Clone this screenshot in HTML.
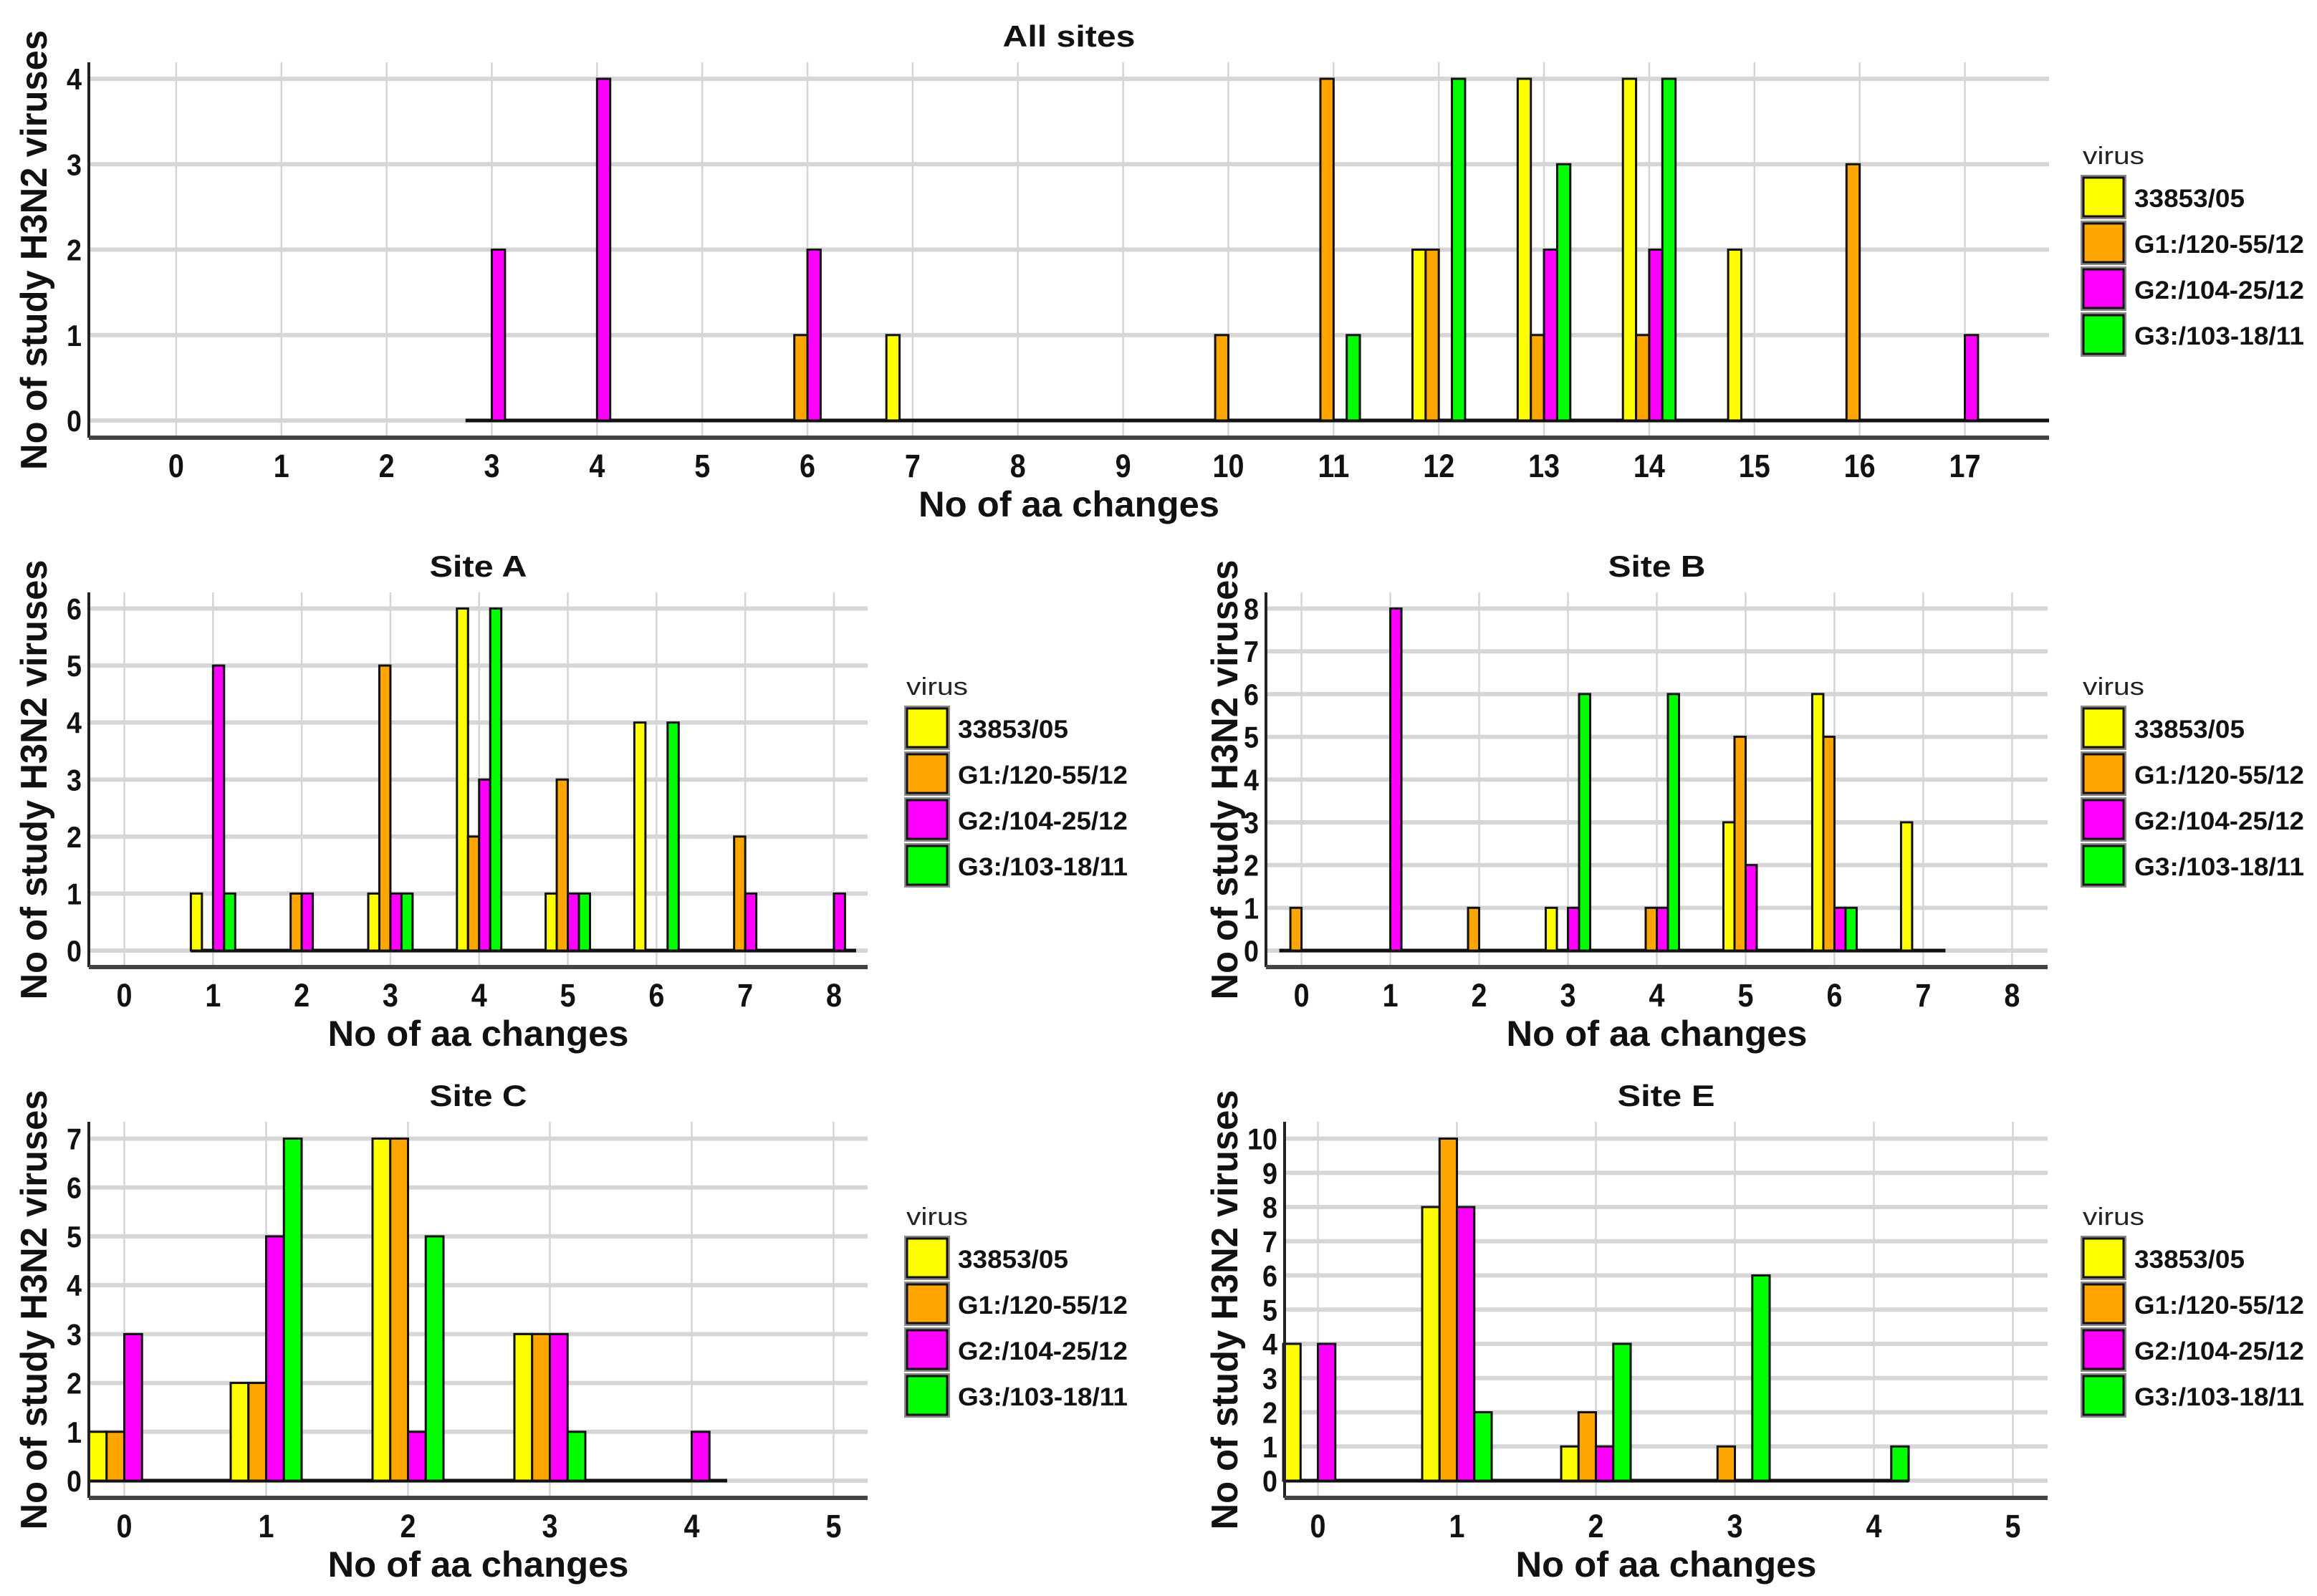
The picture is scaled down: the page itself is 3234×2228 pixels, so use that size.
<!DOCTYPE html>
<html><head><meta charset="utf-8">
<style>
html,body{margin:0;padding:0;background:#fff;}
svg{display:block;font-family:"Liberation Sans",Arial,sans-serif;}
</style></head>
<body>
<svg id="chart" width="3234" height="2228" viewBox="0 0 3234 2228" xmlns="http://www.w3.org/2000/svg">
<rect x="0" y="0" width="3234" height="2228" fill="#fff"/>
</svg>
<script>
// ---- data ----
const seriesNames = ["33853/05","G1:/120-55/12","G2:/104-25/12","G3:/103-18/11"];
const seriesColors = ["#ffff00","#ffa500","#ff00ff","#00ff00"];

const allCats = [3,4,6,7,10,11,12,13,14,15,16,17];
const allY = [0,0,0,1,0,0,2,4,4,2,0,0];
const allO = [0,0,1,0,1,4,2,1,1,0,3,0];
const allM = [2,4,2,0,0,0,0,2,2,0,0,1];
const allG = [0,0,0,0,0,1,4,3,4,0,0,0];
const allXTicks = [0,1,2,3,4,5,6,7,8,9,10,11,12,13,14,15,16,17];
const allYTicks = [0,1,2,3,4];

const aCats = [1,2,3,4,5,6,7,8];
const aY = [1,0,1,6,1,4,0,0];
const aO = [0,1,5,2,3,0,2,0];
const aM = [5,1,1,3,1,0,1,1];
const aG = [1,0,1,6,1,4,0,0];
const aXTicks = [0,1,2,3,4,5,6,7,8];
const aYTicks = [0,1,2,3,4,5,6];

const bCats = [0,1,2,3,4,5,6,7];
const bY = [0,0,0,1,0,3,6,3];
const bO = [1,0,1,0,1,5,5,0];
const bM = [0,8,0,1,1,2,1,0];
const bG = [0,0,0,6,6,0,1,0];
const bXTicks = [0,1,2,3,4,5,6,7,8];
const bYTicks = [0,1,2,3,4,5,6,7,8];

const cCats = [0,1,2,3,4];
const cY = [1,2,7,3,0];
const cO = [1,2,7,3,0];
const cM = [3,5,1,3,1];
const cG = [0,7,5,1,0];
const cXTicks = [0,1,2,3,4,5];
const cYTicks = [0,1,2,3,4,5,6,7];

const eCats = [0,1,2,3,4];
const eY = [4,8,1,0,0];
const eO = [0,10,2,1,0];
const eM = [4,8,1,0,0];
const eG = [0,2,4,6,1];
const eXTicks = [0,1,2,3,4,5];
const eYTicks = [0,1,2,3,4,5,6,7,8,9,10];

// ---- layout ----
const NS = "http://www.w3.org/2000/svg";
const svg = document.getElementById('chart');
function mk(tag, attrs, parent, txt){
  const e = document.createElementNS(NS, tag);
  for (const k in attrs) e.setAttribute(k, attrs[k]);
  if (txt !== undefined) e.textContent = txt;
  (parent||svg).appendChild(e);
  return e;
}

const panels = [
  {id:'all-sites', title:'All sites', tw:185, L:124, R:2860, T:87, B:611, xs:[-0.83,17.8], y0:587, yTopPx:110, yTopV:4, yt:65, lx:2907, ly:217,
   cats:allCats, vals:[allY,allO,allM,allG], xt:allXTicks, ytk:allYTicks, extendRight:true},
  {id:'site-a', title:'Site A', tw:136, L:124, R:1211, T:827, B:1350, xs:[-0.4,8.38], y0:1327, yTopPx:849.5, yTopV:6, yt:65, lx:1265, ly:958,
   cats:aCats, vals:[aY,aO,aM,aG], xt:aXTicks, ytk:aYTicks},
  {id:'site-b', title:'Site B', tw:136, L:1767, R:2858, T:827, B:1350, xs:[-0.4,8.4], y0:1327, yTopPx:849.5, yTopV:8, yt:1727, lx:2907, ly:958,
   cats:bCats, vals:[bY,bO,bM,bG], xt:bXTicks, ytk:bYTicks},
  {id:'site-c', title:'Site C', tw:136, L:124, R:1211, T:1566, B:2091, xs:[-0.25,5.24], y0:2067, yTopPx:1589.5, yTopV:7, yt:65, lx:1265, ly:1698,
   cats:cCats, vals:[cY,cO,cM,cG], xt:cXTicks, ytk:cYTicks},
  {id:'site-e', title:'Site E', tw:136, L:1793, R:2858, T:1566, B:2091, xs:[-0.24,5.25], y0:2067, yTopPx:1589.5, yTopV:10, yt:1727, lx:2907, ly:1698,
   cats:eCats, vals:[eY,eO,eM,eG], xt:eXTicks, ytk:eYTicks}
];

panels.forEach(p => {
  const g = mk('g', {});
  
  
  const X = v => p.L + (v - p.xs[0]) / (p.xs[1] - p.xs[0]) * (p.R - p.L);
  const Y = v => p.y0 - v * (p.y0 - p.yTopPx) / p.yTopV;
  const unit = X(1) - X(0);

  // gridlines
  p.xt.forEach(t => {
    const l = mk('line', {x1:X(t), x2:X(t), y1:p.T, y2:p.B, stroke:'#d4d4d4', 'stroke-width':2.5}, g);
    
    
  });
  p.ytk.forEach(t => {
    const l = mk('line', {x1:p.L, x2:p.R, y1:Y(t), y2:Y(t), stroke:'#d6d6d6', 'stroke-width':6}, g);
    
    
  });

  // baseline of zero-height bars
  const minC = Math.min(...p.cats), maxC = Math.max(...p.cats);
  const bx2 = p.extendRight ? p.R : X(maxC + 0.25);
  const base = mk('line', {x1:X(minC - 0.25), x2:bx2, y1:Y(0), y2:Y(0), stroke:'#111', 'stroke-width':5}, g);
  
  

  // bars
  const bw = 0.125;
  p.vals.forEach((arr, s) => {
    arr.forEach((v, i) => {
      if (v <= 0) return;
      const cx = p.cats[i] + (s - 1.5) * bw;
      const x = X(cx - bw/2), w = bw * unit;
      const r = mk('rect', {x:x, y:Y(v), width:w, height:Y(0)-Y(v), fill:seriesColors[s], stroke:'#111', 'stroke-width':3}, g);
      
      
    });
  });

  // axes
  const ya = mk('line', {x1:p.L, x2:p.L, y1:p.T, y2:p.B, stroke:'#222', 'stroke-width':4}, g);
  
  
  const xa = mk('line', {x1:p.L, x2:p.R, y1:p.B, y2:p.B, stroke:'#444', 'stroke-width':6}, g);
  
  

  // tick labels
  p.xt.forEach(t => {
    const s = String(t);
    const tx = mk('text', {x:X(t), y:p.B+55, 'text-anchor':'middle', 'font-size':45, 'font-weight':'bold', fill:'#111', textLength:22*s.length, lengthAdjust:'spacingAndGlyphs'}, g, s);
    
    
  });
  p.ytk.forEach(t => {
    const s = String(t);
    const tx = mk('text', {x:p.L-10, y:Y(t)+15, 'text-anchor':'end', 'font-size':42, 'font-weight':'bold', fill:'#111', textLength:21*s.length, lengthAdjust:'spacingAndGlyphs'}, g, s);
    
    
  });

  // titles
  const tt = mk('text', {x:(p.L+p.R)/2, y:p.T-22, 'text-anchor':'middle', 'font-size':42, 'font-weight':'bold', fill:'#111', textLength:p.tw, lengthAdjust:'spacingAndGlyphs'}, g, p.title);
  
  
  const xt = mk('text', {x:(p.L+p.R)/2, y:p.B+110, 'text-anchor':'middle', 'font-size':50, 'font-weight':'bold', fill:'#111', textLength:420, lengthAdjust:'spacingAndGlyphs'}, g, 'No of aa changes');
  
  
  const cy = (p.T + p.B) / 2;
  const yt = mk('text', {x:0, y:0, transform:'translate(' + p.yt + ',' + cy + ') rotate(-90)', 'text-anchor':'middle', 'font-size':52, 'font-weight':'bold', fill:'#111', textLength:614, lengthAdjust:'spacingAndGlyphs'}, g, 'No of study H3N2 viruses');
  
  

  // legend
  const lg = mk('g', {}, g);
  
  
  const lt = mk('text', {x:p.lx, y:p.ly+12, 'font-size':34, fill:'#222', textLength:86, lengthAdjust:'spacingAndGlyphs'}, lg, 'virus');
  
  
  seriesNames.forEach((n, s) => {
    const ky = p.ly + 30 + s * 64;
    const e = mk('g', {}, lg);
    
    
    mk('rect', {x:p.lx-3, y:ky-3, width:64, height:62, fill:'#8a8a8a'}, e);
    mk('rect', {x:p.lx+1, y:ky+1, width:56, height:54, fill:seriesColors[s], stroke:'#111', 'stroke-width':3}, e);
    mk('text', {x:p.lx+72, y:ky+42, 'font-size':35, 'font-weight':'bold', fill:'#111', textLength: s===0 ? 154 : 237, lengthAdjust:'spacingAndGlyphs'}, e, n);
  });
});
</script>
</body></html>
